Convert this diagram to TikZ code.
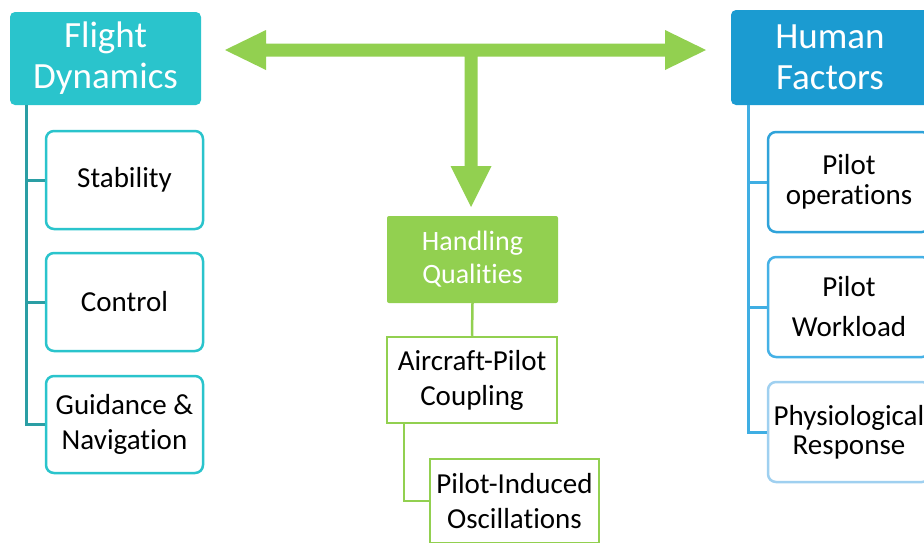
\documentclass[tikz,border=0pt]{standalone}
\usepackage{fontspec}
\setmainfont{Carlito}[Ligatures=NoCommon]
\definecolor{fdteal}{HTML}{2AC4CC}
\definecolor{fdline}{HTML}{2A9EA4}
\definecolor{hfblue}{HTML}{1B9BD1}
\definecolor{hfline}{HTML}{3FAEE3}
\definecolor{hfbox}{HTML}{2FA3DA}
\definecolor{hfbox2}{HTML}{45B1E6}
\definecolor{hflight}{HTML}{9FD0F0}
\definecolor{hqgreen}{HTML}{92D050}
\tikzset{
  header/.style={rounded corners=5pt, text=white, align=center, inner sep=0pt,
    font=\fontsize{37}{41}\selectfont},
  child/.style={draw, fill=white, line width=2.5pt, rounded corners=8pt, align=center,
    inner sep=0pt, minimum width=157pt, font=\fontsize{29}{35}\selectfont},
  gbox/.style={draw=hqgreen, fill=white, line width=2.5pt, align=center, inner sep=0pt,
    font=\fontsize{29}{35}\selectfont},
}
\begin{document}
\begin{tikzpicture}[x=1pt,y=-1pt]
\useasboundingbox (0,0) rectangle (924,542);
\clip (0,0) rectangle (924,542);
\fill[white] (0,0) rectangle (924,542);
% block arrow
\fill[hqgreen] (225,50) -- (266,30) -- (266,43.5) -- (464.5,43.5) -- (665,43.5) -- (665,30)
  -- (706,50) -- (665,70) -- (665,56.5) -- (477.5,56.5) -- (477.5,166) -- (491.5,166)
  -- (471,207) -- (450.5,166) -- (464.5,166) -- (464.5,56.5) -- (266,56.5) -- (266,70) -- cycle;
% Flight dynamics
\node[header, fill=fdteal, minimum width=191pt, minimum height=93pt] (fd) at (105.5,58.5) {Flight\\Dynamics};
\node[child, draw=fdteal, minimum height=98pt] (stab) at (124.5,180) {Stability};
\node[child, draw=fdteal, minimum height=98pt] (ctrl) at (124.5,302) {Control};
\node[child, draw=fdteal, minimum height=97pt] (guid) at (124.5,424.5) {Guidance \&\\Navigation};
\begin{scope}[draw=fdline, line width=3pt]
\draw ([xshift=17pt]fd.south west) |- (stab.west);
\draw ([xshift=17pt]fd.south west) |- (ctrl.west);
\draw ([xshift=17pt]fd.south west) |- (guid.west);
\end{scope}
% Handling qualities
\node[fill=hqgreen, rounded corners=2pt, text=white, align=center, inner sep=0pt,
  minimum width=171pt, minimum height=87pt, font=\fontsize{28}{33}\selectfont] (hq) at (472.5,259.5) {Handling\\Qualities};
\node[gbox, minimum width=170pt, minimum height=86pt] (apc) at (472,380) {Aircraft-Pilot\\Coupling};
\node[gbox, minimum width=169pt, minimum height=84pt] (pio) at (514.5,501) {Pilot-Induced\\Oscillations};
\begin{scope}[draw=hqgreen, line width=2.5pt]
\draw (hq.south) -- (apc.north);
\draw ([xshift=18pt]apc.south west) |- (pio.west);
\end{scope}
% Human factors
\node[header, fill=hfblue, minimum width=198pt, minimum height=95pt] (hf) at (830,57.5) {Human\\Factors};
\node[child, draw=hfbox, minimum width=162pt, minimum height=100pt, font=\fontsize{29}{30}\selectfont] (pops) at (849,182) {Pilot\\operations};
\node[child, draw=hfbox2, minimum width=162pt, minimum height=100pt] (pwl) at (849,307) {Pilot\\[5pt]Workload};
\node[child, draw=hflight, minimum width=162pt, minimum height=100pt, font=\fontsize{29}{29}\selectfont] (phys) at (849,432) {Physiological\\Response};
\begin{scope}[draw=hfline, line width=3pt]
\draw ([xshift=18pt]hf.south west) |- (pops.west);
\draw ([xshift=18pt]hf.south west) |- (pwl.west);
\draw ([xshift=18pt]hf.south west) |- (phys.west);
\end{scope}
\end{tikzpicture}
\end{document}
